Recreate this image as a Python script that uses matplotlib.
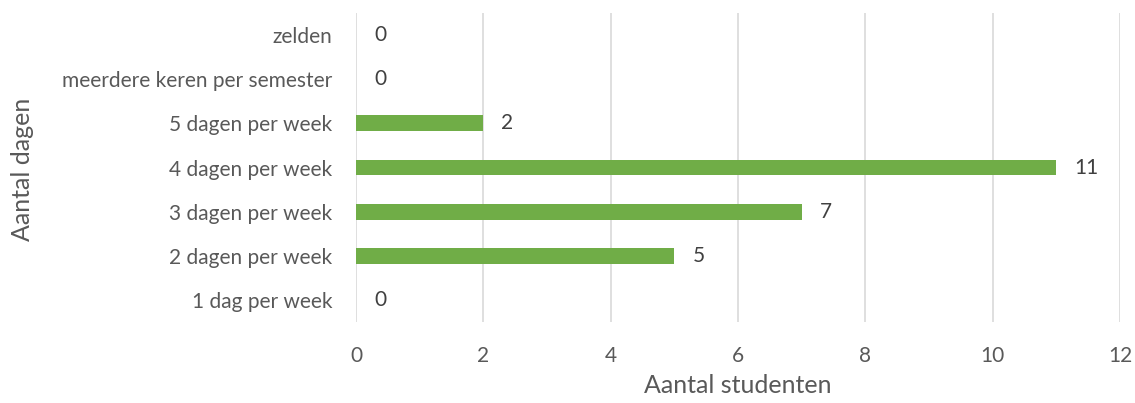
import matplotlib
matplotlib.use("Agg")
import matplotlib.pyplot as plt

categories = ["1 dag per week", "2 dagen per week", "3 dagen per week", "4 dagen per week",
              "5 dagen per week", "meerdere keren per semester", "zelden"]
values = [0, 5, 7, 11, 2, 0, 0]
xticks = [0, 2, 4, 6, 8, 10, 12]

plt.rcParams['font.family'] = ['Lato', 'DejaVu Sans']
txt = '#595959'

fig = plt.figure(figsize=(11.35, 4.03), dpi=100)
ax = fig.add_axes([0.3137, 0.201, 0.6731, 0.7667])

pos = range(len(categories))
ax.barh(pos, values, height=0.36, color='#70AD47', zorder=3)
for p, v in zip(pos, values):
    ax.annotate(str(v), (v, p), xytext=(18, 0), textcoords='offset pixels',
                va='center', ha='left', fontsize=15, color='#404040')

ax.set_xlim(0, 12)
ax.set_ylim(-0.5, len(categories) - 0.5)
ax.set_xticks(xticks)
ax.set_yticks(list(pos))
ax.set_yticklabels(categories)
ax.tick_params(axis='both', length=0, labelsize=15, labelcolor=txt)
ax.tick_params(axis='x', pad=17)
ax.tick_params(axis='y', pad=17)
ax.grid(axis='x', color='#D9D9D9', linewidth=1.2, zorder=0)
for s in ax.spines.values():
    s.set_visible(False)

ax.set_xlabel("Aantal studenten", fontsize=18, color=txt, labelpad=6)
fig.text(0.02, 0.58, "Aantal dagen", rotation=90, fontsize=18, color=txt, va='center', ha='center')

fig.savefig("out.png", dpi=100)
